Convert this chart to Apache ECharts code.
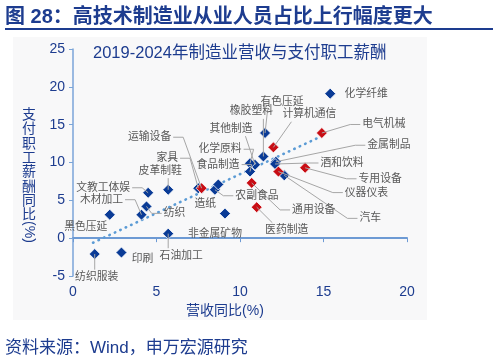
<!DOCTYPE html>
<html><head><meta charset="utf-8">
<script src="https://cdn.jsdelivr.net/npm/echarts@6/dist/echarts.min.js"></script>
<style>html,body{margin:0;padding:0;background:#fff}#c{width:497px;height:361px}</style>
</head><body><div id="c"></div>
<script>
// ---- data ----
const industries = ['化学纤维','电气机械','有色压延','计算机通信','橡胶塑料','其他制造','化学原料','食品制造','金属制品','酒和饮料','专用设备','仪器仪表','汽车','通用设备','医药制造','农副食品','造纸','运输设备','家具','皮革制鞋','文教工体娱','纺织','木材加工','黑色压延','石油加工','非金属矿物','纺织服装','印刷'];
const revenueGrowth = [15.4,14.9,11.5,12.0,11.4,10.9,10.6,10.6,12.15,12.1,13.9,12.3,12.65,10.7,11.0,8.5,8.7,7.7,7.5,5.7,4.5,4.4,4.1,2.2,5.7,9.1,1.3,2.9];
const payrollGrowth = [19.1,13.9,13.9,12.0,10.8,9.7,9.9,8.8,10.1,9.8,9.3,8.8,8.3,7.3,4.1,6.4,7.1,6.6,6.6,6.4,6.0,4.2,3.1,3.1,0.6,3.25,-2.1,-1.9];
const highTech = [0,1,0,1,0,0,0,0,0,0,1,1,0,1,1,0,0,1,0,0,0,0,0,0,0,0,0,0];
const trendX = [1.2, 15.1];
const trendY = [-0.6, 13.7];
const xTicks = [0, 20, 5];   // min, max, interval
const yTicks = [-5, 25, 5];

// label placement (pixel offsets from the point to label centre, leader mode)
const labelOffsets = [[36,0,'n'],[62,-8.5,'h'],[17,-31,'v'],[36,-33,'v'],[-12,-45,'v'],[-24,-36,'v'],[-30,-14,'h'],[-32,-7,'h'],[113,-16.5,'h'],[67,-1,'h'],[75,11,'h'],[88,21,'h'],[86,43,'h'],[62,27,'h'],[30,23,'v'],[42,6,'h'],[-13,20,'n'],[-52,-51,'h'],[-31,-30,'h'],[-8,-19,'v'],[-45,-5,'h'],[28,7,'h'],[-40,-15,'h'],[-24,12,'n'],[13,22,'v'],[-10,20,'n'],[2,23,'v'],[21,6,'n']];

const FONT = "'Liberation Sans','Noto Sans CJK SC',sans-serif";
const NAVY = '#1d3c8f';
const LABEL_SIZE = 10.8;
const mctx = document.createElement('canvas').getContext('2d');
mctx.font = LABEL_SIZE + 'px ' + FONT;
const tw = s => mctx.measureText(s).width;

const pts = industries.map((n, i) => [revenueGrowth[i], payrollGrowth[i], i]);
const bluePts = pts.filter(p => !highTech[p[2]]);
const redPts = pts.filter(p => highTech[p[2]]);

const chart = echarts.init(document.getElementById('c'));
const option = {
  animation: false,
  textStyle: { fontFamily: FONT },
  title: [
    { text: '图 28：高技术制造业从业人员占比上行幅度更大', left: 5, top: 7, padding: 0,
      textStyle: { fontSize: 20, fontWeight: 'bold', color: NAVY, fontFamily: FONT } },
    { text: '2019-2024年制造业营收与支付职工薪酬', left: 93, top: 45, padding: 0,
      textStyle: { fontSize: 16.5, fontWeight: 'normal', color: NAVY, fontFamily: FONT } },
    { text: '资料来源：Wind，申万宏源研究', left: 5, top: 340, padding: 0,
      textStyle: { fontSize: 17, fontWeight: 'normal', color: NAVY, fontFamily: FONT } }
  ],
  graphic: [
    { type: 'rect', z: -10, shape: { x: 13, y: 37, width: 414, height: 283 }, style: { fill: '#f8f8f9' } },
    { type: 'line', shape: { x1: 5, y1: 29, x2: 493, y2: 29 }, style: { stroke: NAVY, lineWidth: 2 } },
    { type: 'text', x: 29, y: 108, style: { text: '支\n付\n职\n工\n薪\n酬\n同\n比', align: 'center', verticalAlign: 'top',
      font: '14px ' + FONT, fill: NAVY, lineHeight: 14.3 } },
    { type: 'text', x: 29, y: 232, rotation: -Math.PI / 2, style: { text: '(%)', align: 'center', verticalAlign: 'middle',
      font: '14px ' + FONT, fill: NAVY } }
  ],
  grid: { left: 73, right: 90, top: 49, bottom: 85 },
  xAxis: [
    { type: 'value', min: xTicks[0], max: xTicks[1], interval: xTicks[2], position: 'bottom',
      axisLine: { show: false, onZero: false }, axisTick: { show: false }, splitLine: { show: false },
      axisLabel: { color: NAVY, fontSize: 14, margin: 9, fontFamily: FONT },
      name: '营收同比(%)', nameLocation: 'middle', nameGap: 23,
      nameTextStyle: { color: NAVY, fontSize: 14, fontFamily: FONT, padding: [0, 30, 0, 0] } },
    { type: 'value', min: xTicks[0], max: xTicks[1], interval: xTicks[2], position: 'top',
      axisLine: { show: true, onZero: true, lineStyle: { color: '#6d9ad4', width: 2 } },
      axisTick: { show: true, inside: true, length: 4, lineStyle: { color: '#6d9ad4', width: 1 } },
      axisLabel: { show: false }, splitLine: { show: false } }
  ],
  yAxis: { type: 'value', min: yTicks[0], max: yTicks[1], interval: yTicks[2],
    axisLine: { show: true, lineStyle: { color: '#7ba5d8', width: 1.5 } },
    axisTick: { show: true, length: 4, lineStyle: { color: '#7ba5d8' } },
    splitLine: { show: false },
    axisLabel: { color: NAVY, fontSize: 14, margin: 8, fontFamily: FONT } },
  series: [
    { type: 'line', data: trendX.map((x, i) => [x, trendY[i]]), symbol: 'none', z: 1,
      lineStyle: { color: '#5b9bd5', width: 2.6, type: [0.5, 5.5], cap: 'round' } },
    { type: 'scatter', data: bluePts, symbol: 'diamond', symbolSize: 11, z: 2,
      itemStyle: { color: '#0a3b96', borderColor: '#ffffff', borderWidth: 0.8, opacity: 1 } },
    { type: 'scatter', data: redPts, symbol: 'diamond', symbolSize: 11, z: 2,
      itemStyle: { color: '#c80d14', borderColor: '#ffffff', borderWidth: 0.8, opacity: 1 } },
    { type: 'custom', data: pts, z: 3, clip: false, encode: { x: 0, y: 1 },
      renderItem: function (params, api) {
        const i = api.value(2);
        const p = api.coord([api.value(0), api.value(1)]);
        const o = labelOffsets[i];
        const lx = p[0] + o[0], ly = p[1] + o[1];
        const w = tw(industries[i]), h = LABEL_SIZE;
        const children = [];
        const ls = { stroke: '#a6a6a6', lineWidth: 1, fill: 'none' };
        if (o[2] === 'h') {
          const right = o[0] > 0;
          const ex = right ? lx - w / 2 - 2 : lx + w / 2 + 2;
          const bx = right ? ex - 10 : ex + 10;
          children.push({ type: 'polyline', shape: { points: [p, [bx, ly], [ex, ly]] }, style: ls });
        } else if (o[2] === 'v') {
          const above = o[1] < 0;
          const ey = above ? ly + h / 2 + 2 : ly - h / 2 - 2;
          const ex = Math.min(Math.max(p[0], lx - w / 3), lx + w / 3);
          children.push({ type: 'polyline', shape: { points: [p, [ex, ey]] }, style: ls });
        }
        children.push({ type: 'text', style: { text: industries[i], x: lx, y: ly, align: 'center', verticalAlign: 'middle',
          fill: '#595959', font: LABEL_SIZE + 'px ' + FONT } });
        return { type: 'group', children: children };
      } }
  ]
};
chart.setOption(option);
</script></body></html>
